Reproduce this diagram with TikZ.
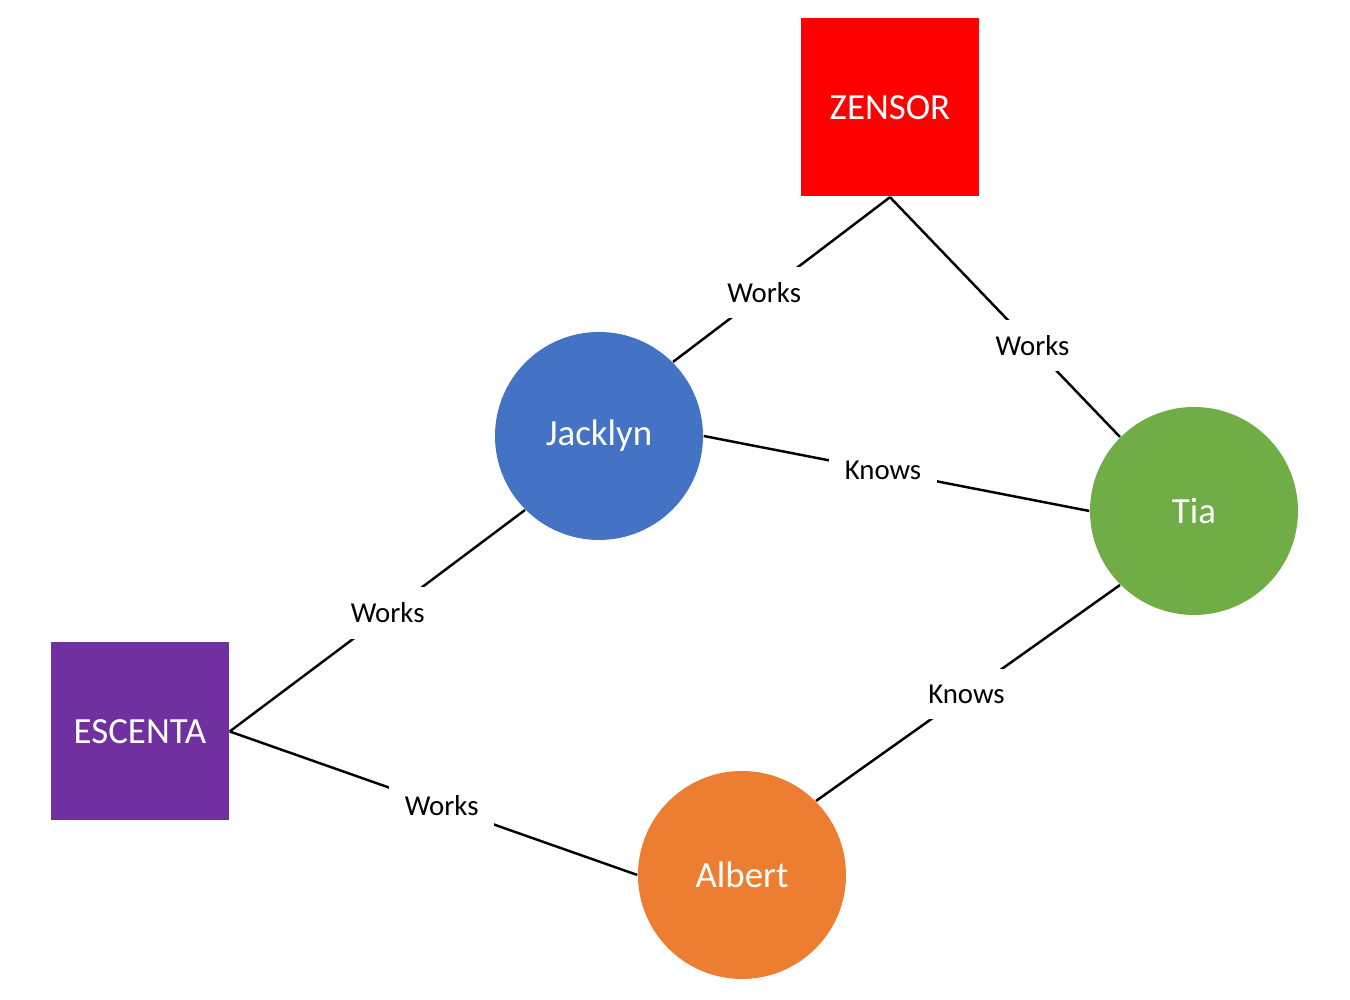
\documentclass[tikz,border=0pt]{standalone}
\usepackage{fontspec}
\setmainfont{Carlito}
\usepackage{xcolor}
\usetikzlibrary{positioning}

\definecolor{zensorred}{HTML}{FF0000}
\definecolor{escentapurple}{HTML}{7030A0}
\definecolor{jackblue}{HTML}{4472C4}
\definecolor{tiagreen}{HTML}{70AD47}
\definecolor{albertorange}{HTML}{ED7D31}

\begin{document}
\begin{tikzpicture}[
  company/.style={rectangle,minimum size=1.78cm,inner sep=0pt,text=white,font=\fontsize{10.5}{12}\selectfont},
  person/.style={circle,minimum size=2.08cm,inner sep=0pt,text=white,font=\fontsize{10.5}{12}\selectfont},
  rel/.style={line width=0.7pt,black},
  lbl/.style={fill=white,inner sep=4.4pt,font=\fontsize{8.2}{10}\selectfont}
]
  \useasboundingbox (0,0) rectangle (13.5,10);

  \node[company,fill=zensorred] (zensor) at (8.90,8.925) {ZENSOR};
  \node[company,fill=escentapurple] (escenta) at (1.40,2.685) {ESCENTA};

  \node[person,fill=jackblue] (jacklyn) at (5.99,5.64) {Jacklyn};
  \node[person,fill=tiagreen] (tia) at (11.94,4.89) {Tia};
  \node[person,fill=albertorange] (albert) at (7.42,1.25) {Albert};

  \draw[rel] (zensor.south) -- node[lbl,pos=0.58]{Works} (jacklyn.north east);
  \draw[rel] (zensor.south) -- node[lbl,pos=0.62]{Works} (tia.north west);
  \draw[rel] (jacklyn.east) -- node[lbl,pos=0.465]{Knows} (tia.west);
  \draw[rel] (escenta.east) -- node[lbl,pos=0.535]{Works} (jacklyn.south west);
  \draw[rel] (escenta.east) -- node[lbl,pos=0.52]{Works} (albert.west);
  \draw[rel] (tia.south west) -- node[lbl,pos=0.505]{Knows} (albert.north east);
\end{tikzpicture}
\end{document}
